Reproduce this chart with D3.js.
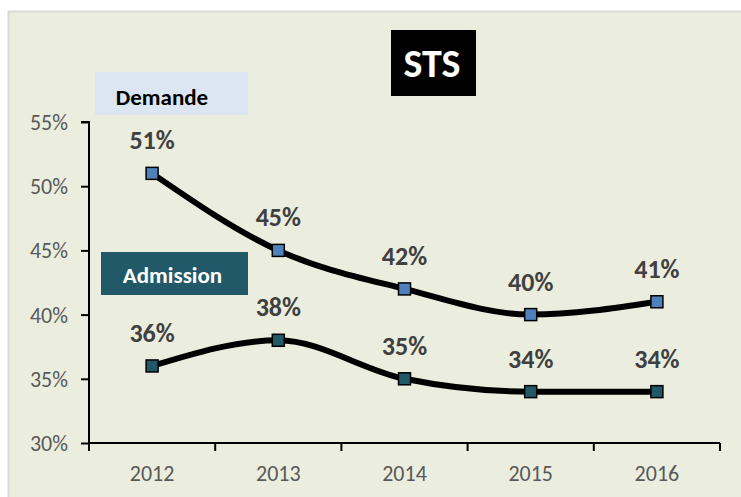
<!DOCTYPE html>
<html>
<head>
<meta charset="utf-8">
<script src="https://cdn.jsdelivr.net/npm/d3@7"></script>
<style>
  body { margin: 0; background: #fff; }
  svg { display: block; font-family: Carlito, Lato, "Open Sans", sans-serif; }
</style>
</head>
<body>
<svg id="chart" width="741" height="497"></svg>
<script>
// data
const years = ["2012", "2013", "2014", "2015", "2016"];
const demande = [51, 45, 42, 40, 41];
const admission = [36, 38, 35, 34, 34];
const yTicks = [30, 35, 40, 45, 50, 55];

const svg = d3.select("#chart");

// panel
svg.append("rect")
  .attr("x", 8.5).attr("y", 11.5)
  .attr("width", 740).attr("height", 490)
  .attr("fill", "#ebeedf")
  .attr("stroke", "#d9d9d9")
  .attr("stroke-width", 2);

const plotL = 89, plotR = 720, plotT = 122, plotB = 443;

const x = d3.scaleBand().domain(years).range([plotL, plotR]);
const y = d3.scaleLinear().domain([30, 55]).range([plotB, plotT]);

// y axis
const yAxis = svg.append("g")
  .attr("transform", `translate(${plotL},0)`)
  .call(d3.axisLeft(y).tickValues(yTicks).tickSize(8).tickPadding(13)
    .tickFormat(d => d + "%"))
  .attr("font-family", null)
  .attr("font-size", null);
yAxis.select(".domain").attr("stroke", "#000").attr("stroke-width", 2)
  .attr("d", `M-8,${plotT}H0V${plotB}`);
yAxis.selectAll(".tick line").attr("stroke", "#000").attr("stroke-width", 2);
yAxis.selectAll("text").attr("fill", "#595959").attr("font-size", 22)
  .attr("dy", "0.34em");

// x axis with ticks at category boundaries
const xAxis = svg.append("g")
  .attr("transform", `translate(0,${plotB})`);
xAxis.append("path")
  .attr("d", `M${plotL},0H${plotR}`)
  .attr("stroke", "#000").attr("stroke-width", 2);
const bounds = years.map(d => x(d)).concat([plotR]);
xAxis.selectAll("line.b").data(bounds).join("line")
  .attr("x1", d => d).attr("x2", d => d)
  .attr("y1", 0).attr("y2", 8)
  .attr("stroke", "#000").attr("stroke-width", 2);
xAxis.selectAll("text").data(years).join("text")
  .attr("x", d => x(d) + x.bandwidth() / 2)
  .attr("y", 38)
  .attr("text-anchor", "middle")
  .attr("fill", "#595959")
  .attr("font-size", 22)
  .text(d => d);

// series
const cx = i => x(years[i]) + x.bandwidth() / 2;
const line = d3.line()
  .x((d, i) => cx(i))
  .y(d => y(d))
  .curve(d3.curveMonotoneX);

function drawSeries(values, fill) {
  svg.append("path")
    .datum(values)
    .attr("d", line)
    .attr("fill", "none")
    .attr("stroke", "#000")
    .attr("stroke-width", 6);
  svg.append("g").selectAll("rect").data(values).join("rect")
    .attr("x", (d, i) => cx(i) - 6)
    .attr("y", d => y(d) - 6)
    .attr("width", 12).attr("height", 12)
    .attr("fill", fill)
    .attr("stroke", "#000")
    .attr("stroke-width", 1.5);
  svg.append("g").selectAll("text").data(values).join("text")
    .attr("x", (d, i) => cx(i))
    .attr("y", d => y(d) - 24)
    .attr("text-anchor", "middle")
    .attr("font-size", 26)
    .attr("font-weight", "bold")
    .attr("fill", "#404040")
    .text(d => d + "%");
}
drawSeries(demande, "#4f81bd");
drawSeries(admission, "#215968");

// legend boxes
svg.append("rect").attr("x", 95).attr("y", 72).attr("width", 153).attr("height", 43)
  .attr("fill", "#dce6f2");
svg.append("text").attr("x", 162).attr("y", 105).attr("text-anchor", "middle")
  .attr("font-size", 23).attr("font-weight", "bold").attr("fill", "#000")
  .text("Demande");

svg.append("rect").attr("x", 101).attr("y", 252).attr("width", 147).attr("height", 43)
  .attr("fill", "#215968");
svg.append("text").attr("x", 172.5).attr("y", 283).attr("text-anchor", "middle")
  .attr("font-size", 23).attr("font-weight", "bold").attr("fill", "#fff")
  .text("Admission");

// title
svg.append("rect").attr("x", 391).attr("y", 30).attr("width", 85).attr("height", 66)
  .attr("fill", "#000");
svg.append("text").attr("x", 432).attr("y", 77).attr("text-anchor", "middle")
  .attr("font-size", 40).attr("font-weight", "bold").attr("fill", "#fff")
  .text("STS");
</script>
</body>
</html>
